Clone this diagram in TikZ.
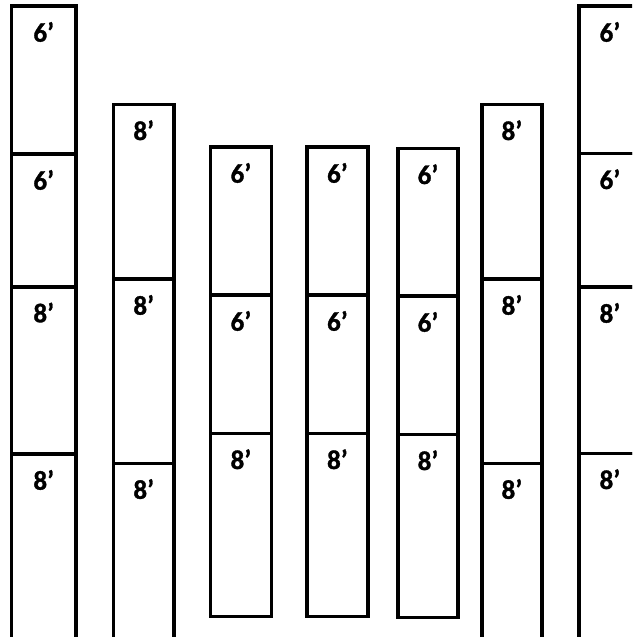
\documentclass[tikz,border=0pt]{standalone}
\usepackage{fontspec}
\setmainfont{Carlito}
\newfontfamily\labfont{Carlito Bold}[FakeBold=1.2]
\newcommand\segbox[6]{%
  \pgfmathsetmacro\segw{#3-#2}%
  \pgfmathsetmacro\segh{#5-#4}%
  \node[seg, minimum width=\segw pt, minimum height=\segh pt] (#1) at (#2,#4) {};
  \node[lab] (#1-l) at ([yshift=-35.5pt]#1.north) {#6’};
}
\begin{document}
\begin{tikzpicture}[x=1pt,y=-1pt,
  seg/.style={draw, line width=3.6pt, inner sep=0pt, outer sep=0pt, anchor=north west},
  lab/.style={font=\labfont\fontsize{27}{30}\selectfont, anchor=base, inner sep=0pt}]
\useasboundingbox (0,0) rectangle (632,637);
\clip (0,0) rectangle (632,637);
% column 1
\segbox{a1}{11.5}{76}{6.2}{154.2}{6}
\segbox{a2}{11.5}{76}{154.2}{286.8}{6}
\segbox{a3}{11.5}{76}{286.8}{454.2}{8}
\segbox{a4}{11.5}{76}{454.2}{660}{8}
% column 2
\segbox{b1}{113.5}{174}{104.5}{279.2}{8}
\segbox{b2}{113.5}{174}{279.2}{463.3}{8}
\segbox{b3}{113.5}{174}{463.3}{660}{8}
% column 3
\segbox{c1}{210.5}{271.3}{147.2}{295.2}{6}
\segbox{c2}{210.5}{271.3}{295.2}{433.5}{6}
\segbox{c3}{210.5}{271.3}{433.5}{616.5}{8}
% column 4
\segbox{d1}{307}{367.8}{147.2}{295.2}{6}
\segbox{d2}{307}{367.8}{295.2}{433.5}{6}
\segbox{d3}{307}{367.8}{433.5}{616.5}{8}
% column 5
\segbox{e1}{397.8}{458.2}{148.5}{296.2}{6}
\segbox{e2}{397.8}{458.2}{296.2}{434.5}{6}
\segbox{e3}{397.8}{458.2}{434.5}{617.5}{8}
% column 6
\segbox{f1}{481.8}{542}{104.5}{279.2}{8}
\segbox{f2}{481.8}{542}{279.2}{463.3}{8}
\segbox{f3}{481.8}{542}{463.3}{660}{8}
% column 7
\segbox{g1}{578.8}{641}{6.2}{153.5}{6}
\segbox{g2}{578.8}{641}{153.5}{287.2}{6}
\segbox{g3}{578.8}{641}{287.2}{453.5}{8}
\segbox{g4}{578.8}{641}{453.5}{660}{8}
\end{tikzpicture}
\end{document}
